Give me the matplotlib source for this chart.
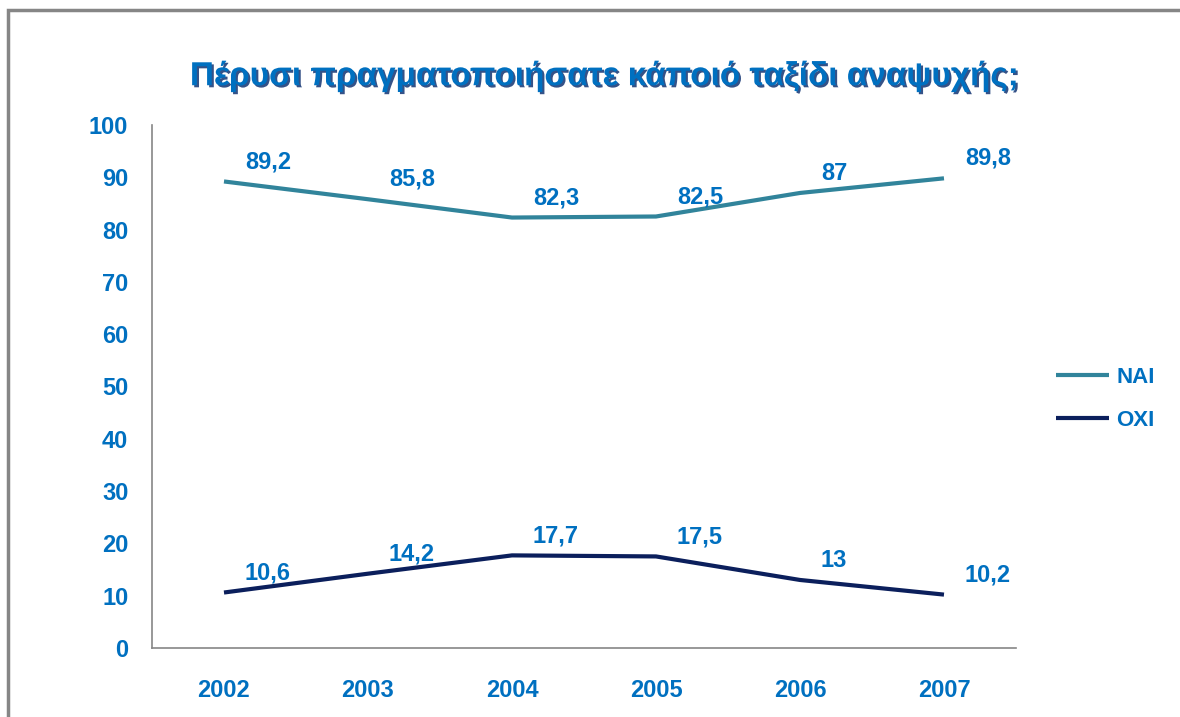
import matplotlib
matplotlib.use("Agg")
import matplotlib.pyplot as plt
import matplotlib.patheffects as pe
from matplotlib.patches import Rectangle

# data
years = ["2002", "2003", "2004", "2005", "2006", "2007"]
nai = [89.2, 85.8, 82.3, 82.5, 87, 89.8]
oxi = [10.6, 14.2, 17.7, 17.5, 13, 10.2]
nai_labels = ["89,2", "85,8", "82,3", "82,5", "87", "89,8"]
oxi_labels = ["10,6", "14,2", "17,7", "17,5", "13", "10,2"]
yticks = list(range(0, 101, 10))

title = "Πέρυσι πραγματοποιήσατε κάποιό ταξίδι αναψυχής;"

TEXT_BLUE = "#0070C0"
NAI_COLOR = "#31849B"
OXI_COLOR = "#0B1F5C"

plt.rcParams["font.family"] = ["Liberation Sans", "DejaVu Sans"]
plt.rcParams["font.weight"] = "bold"

fig = plt.figure(figsize=(11.8, 7.17), dpi=100)
ax = fig.add_axes([0.1288, 0.0963, 0.861 - 0.1288, 0.8257 - 0.0963])

x = list(range(len(years)))
ax.plot(x, nai, color=NAI_COLOR, lw=3, solid_capstyle="butt", label="NAI")
ax.plot(x, oxi, color=OXI_COLOR, lw=3, solid_capstyle="butt", label="OXI")

# data labels sit up and to the right of each point
for series, labels in ((nai, nai_labels), (oxi, oxi_labels)):
    for xi, v, s in zip(x, series, labels):
        ax.annotate(s, (xi, v), xytext=(15, 6), textcoords="offset points",
                    ha="left", va="bottom", color=TEXT_BLUE, fontsize=17,
                    fontweight="bold")

ax.set_xlim(-0.5, len(years) - 0.5)
ax.set_ylim(0, 100)
ax.set_xticks(x)
ax.set_xticklabels(years)
ax.set_yticks(yticks)
ax.tick_params(axis="both", length=0, labelcolor=TEXT_BLUE, labelsize=17)
ax.tick_params(axis="y", pad=17)
ax.tick_params(axis="x", pad=22)
for lab in ax.get_xticklabels() + ax.get_yticklabels():
    lab.set_fontweight("bold")

for side in ("top", "right"):
    ax.spines[side].set_visible(False)
for side in ("left", "bottom"):
    ax.spines[side].set_color("#868686")
    ax.spines[side].set_linewidth(1.2)

leg = fig.legend(loc="center left", bbox_to_anchor=(1056 / 1180, 0.444),
                 frameon=False, borderpad=0, borderaxespad=0,
                 handlelength=2.4, handletextpad=0.3, labelspacing=1.0,
                 prop={"weight": "bold", "size": 16})
for t in leg.get_texts():
    t.set_color(TEXT_BLUE)

fig.text(0.513, 0.893, title, ha="center", va="center", fontsize=24,
         fontweight="bold", color=TEXT_BLUE,
         path_effects=[pe.SimplePatchShadow(offset=(1.5, -1.5),
                                            shadow_rgbFace="#1F3F7A", alpha=0.9),
                       pe.Normal()])

# outer chart frame (only top and left edges fall inside the picture)
fig.patches.append(Rectangle((8 / 1180, -0.05), 1.1, 1 - 10 / 717 + 0.05,
                             transform=fig.transFigure, fill=False,
                             edgecolor="#868686", lw=2.5))

fig.savefig("out.png", dpi=100)
